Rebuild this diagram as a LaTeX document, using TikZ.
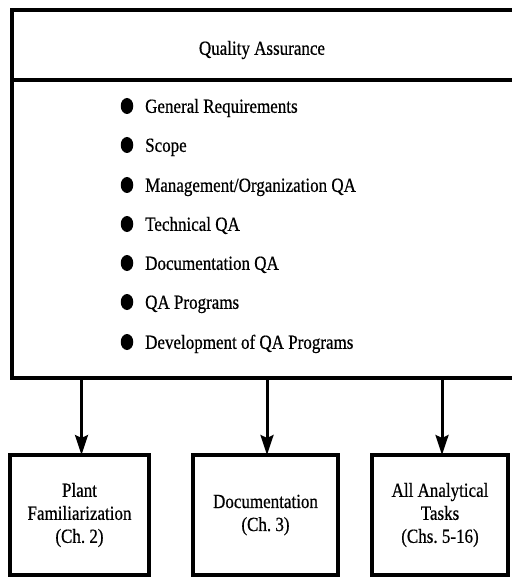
\documentclass[tikz,border=0pt]{standalone}
\usepackage{fontspec}
\setmainfont[FakeStretch=0.85,FakeBold=0.6]{Liberation Serif}
\usetikzlibrary{arrows.meta,shapes.geometric}

\begin{document}
\begin{tikzpicture}[x=1pt,y=-1pt,
  frame/.style={draw=black, line width=3.2pt, inner sep=0pt, outer sep=0pt},
  label/.style={font=\fontsize{20}{23}\selectfont, inner sep=0pt, align=center},
  item/.style={font=\fontsize{20}{23}\selectfont, inner sep=0pt, anchor=base west},
  dot/.style={fill=black, ellipse, inner sep=0pt, minimum width=12.5pt, minimum height=16pt},
  link/.style={line width=3pt, -{Stealth[length=20pt,width=13pt,inset=3pt]}}
]
\useasboundingbox (0,0) rectangle (511,577);

% header and body of the upper panel (right side runs off the page)
\node[frame, anchor=north west, minimum width=510pt, minimum height=70pt] (head) at (12,10) {};
\node[frame, anchor=north west, minimum width=510pt, minimum height=298pt] (body) at (12,80) {};
\node[label] (title) at (262,50) {Quality Assurance};

% bullet list
\foreach \y/\t [count=\i] in {
  106/{General Requirements},
  145/{Scope},
  185/{Management/Organization QA},
  224/{Technical QA},
  263/{Documentation QA},
  302/{QA Programs},
  342/{Development of QA Programs}} {
  \node[dot] (b\i) at (127,\y) {};
  \node[item] (t\i) at (145,\y+6.8) {\t};
}

% lower boxes
\node[frame, anchor=north west, minimum width=139pt, minimum height=120pt] (plant) at (10,455) {};
\node[label] at (plant.center) {Plant\\Familiarization\\(Ch.~2)};
\node[frame, anchor=north west, minimum width=145pt, minimum height=120pt] (docu) at (193,455) {};
\node[label] at (docu.center) {Documentation\\(Ch.~3)};
\node[frame, anchor=north west, minimum width=136pt, minimum height=120pt] (tasks) at (372,455) {};
\node[label] at (tasks.center) {All Analytical\\Tasks\\(Chs.~5-16)};

% connectors
\draw[link] (body.south -| plant.north) ++(2,0) coordinate (a1) -- (a1 |- plant.north);
\draw[link] (body.south -| docu.north) ++(1.5,0) coordinate (a2) -- (a2 |- docu.north);
\draw[link] (body.south -| tasks.north) ++(2,0) coordinate (a3) -- (a3 |- tasks.north);
\end{tikzpicture}
\end{document}
